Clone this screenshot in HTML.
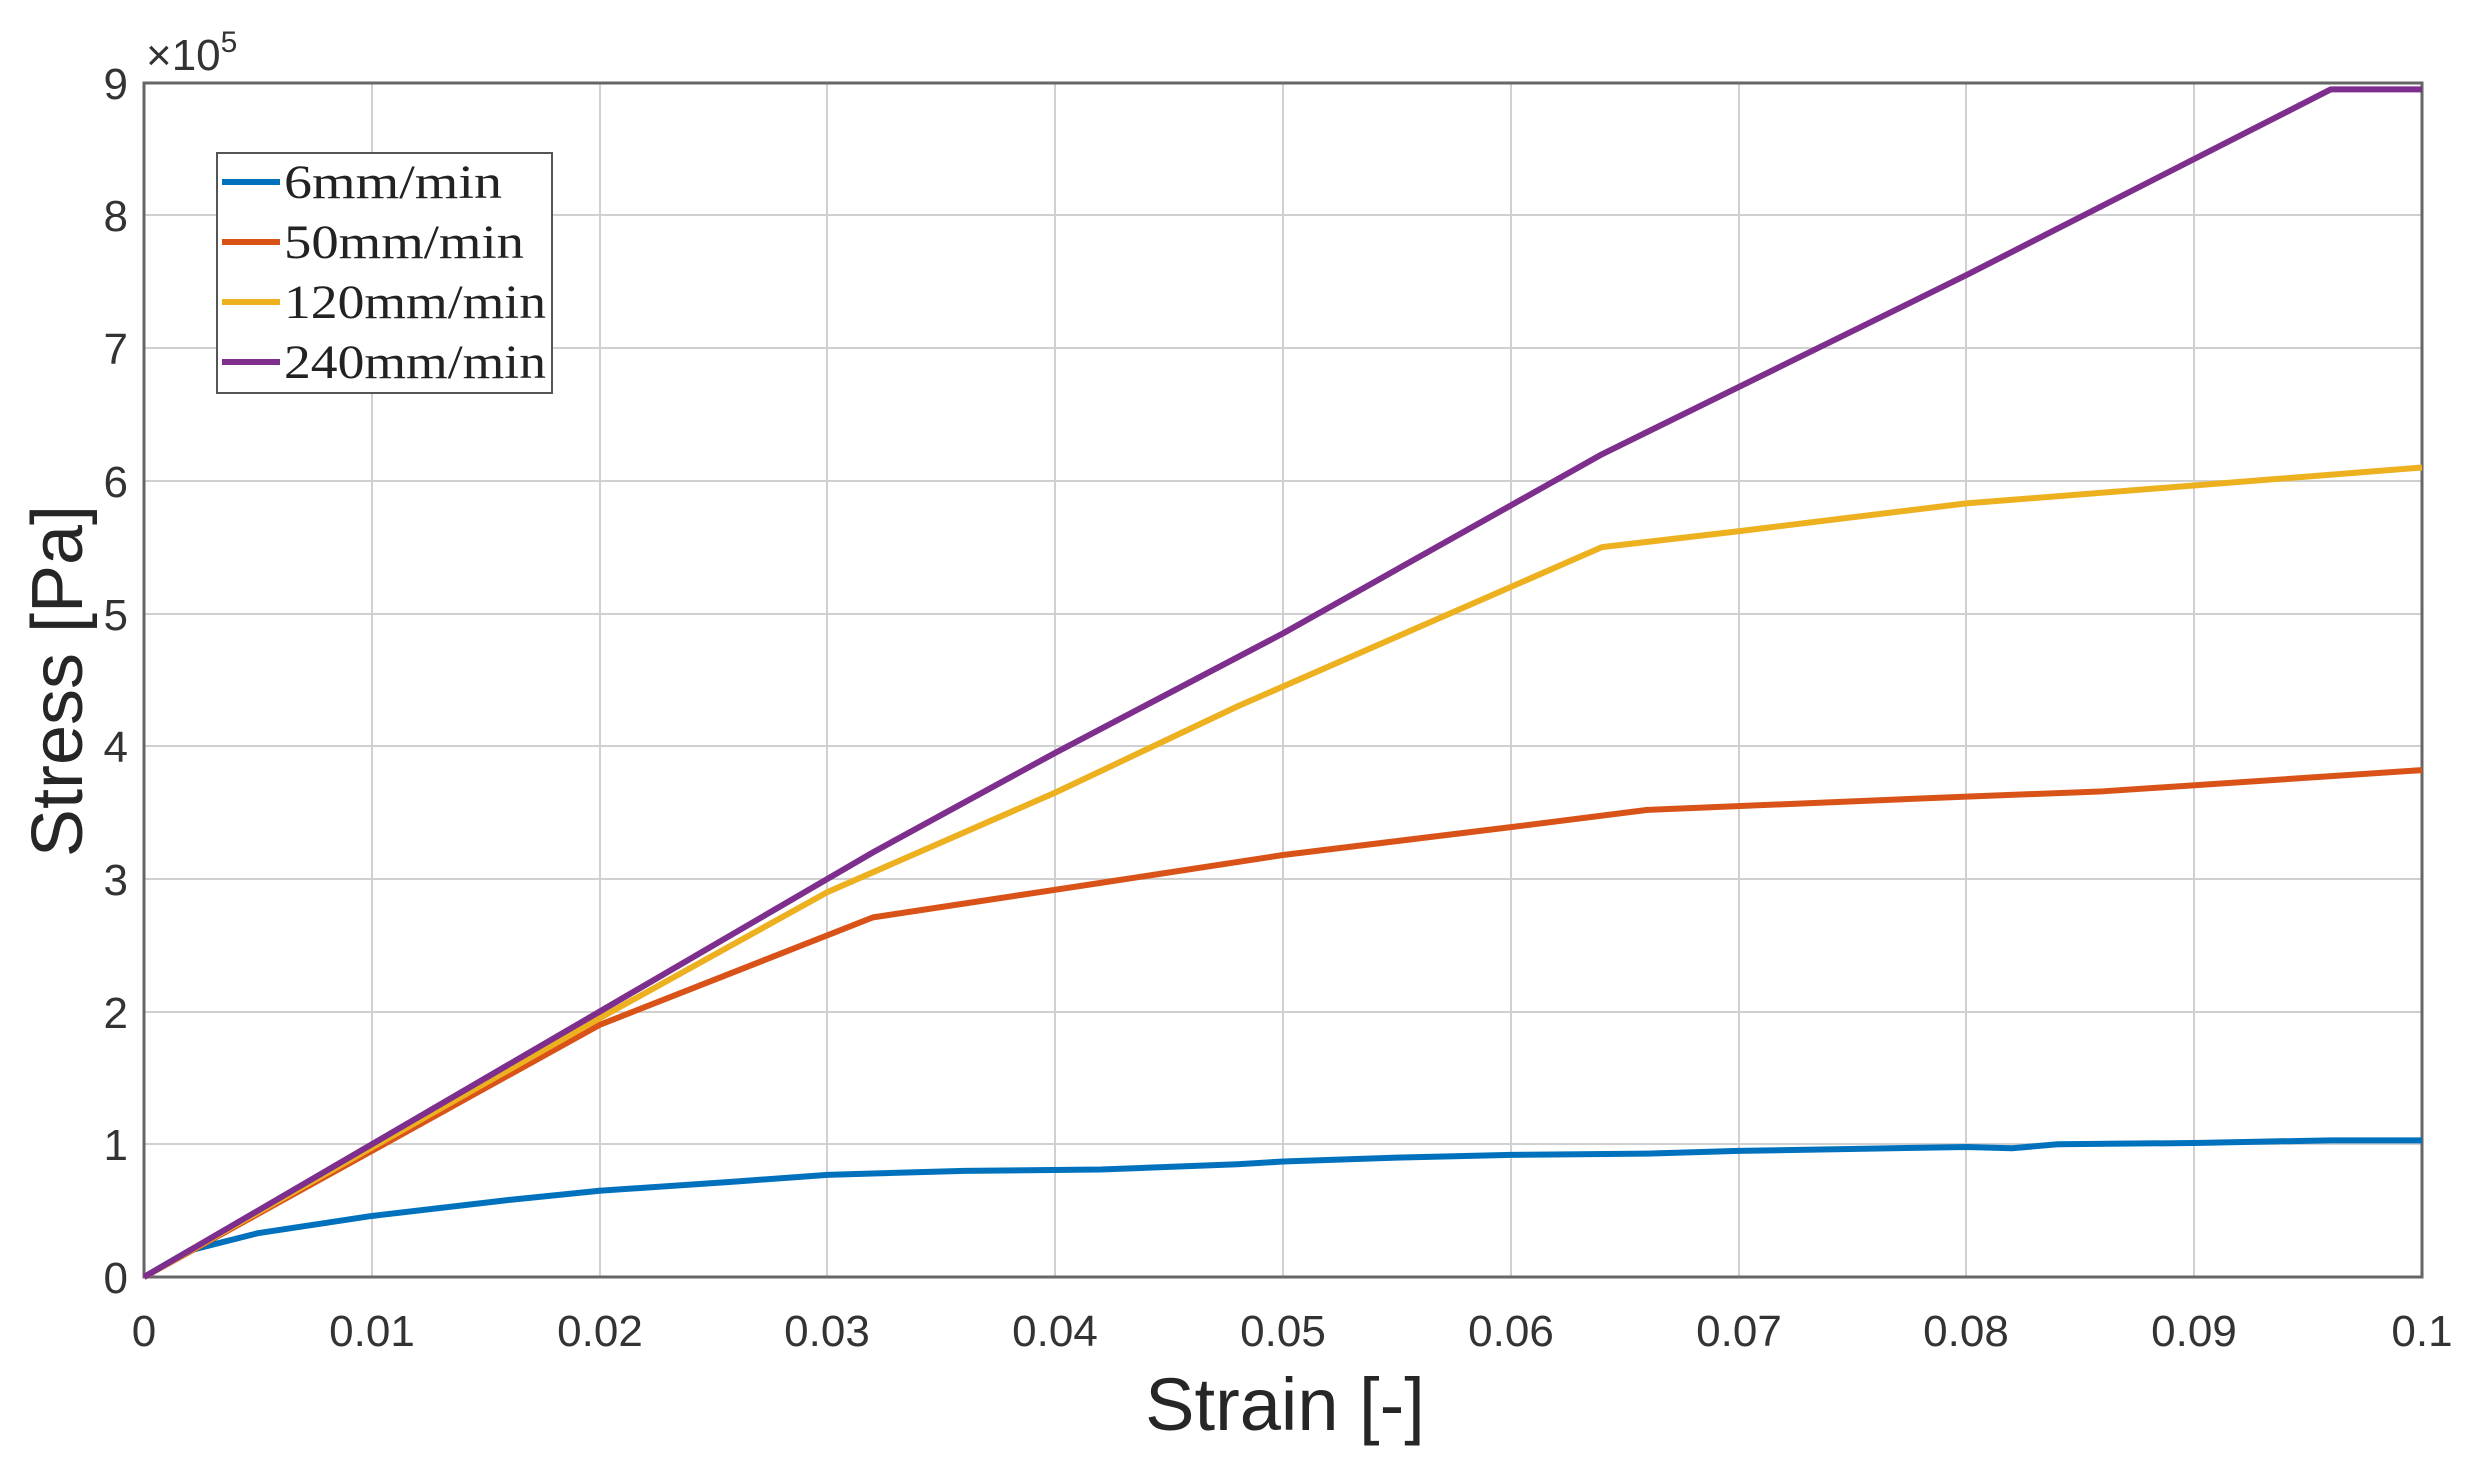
<!DOCTYPE html>
<html><head><style>body{margin:0;background:#fff}svg{display:block}</style></head><body>
<svg width="2466" height="1465" xmlns="http://www.w3.org/2000/svg" font-family="Liberation Sans, sans-serif">
<rect width="2466" height="1465" fill="#fff"/>
<g stroke="#d0d0d0" stroke-width="2">
<line x1="372" y1="83" x2="372" y2="1277"/><line x1="600" y1="83" x2="600" y2="1277"/><line x1="827" y1="83" x2="827" y2="1277"/><line x1="1055" y1="83" x2="1055" y2="1277"/><line x1="1283" y1="83" x2="1283" y2="1277"/><line x1="1511" y1="83" x2="1511" y2="1277"/><line x1="1739" y1="83" x2="1739" y2="1277"/><line x1="1966" y1="83" x2="1966" y2="1277"/><line x1="2194" y1="83" x2="2194" y2="1277"/>
<line x1="144" y1="1144" x2="2422" y2="1144"/><line x1="144" y1="1012" x2="2422" y2="1012"/><line x1="144" y1="879" x2="2422" y2="879"/><line x1="144" y1="746" x2="2422" y2="746"/><line x1="144" y1="614" x2="2422" y2="614"/><line x1="144" y1="481" x2="2422" y2="481"/><line x1="144" y1="348" x2="2422" y2="348"/><line x1="144" y1="215" x2="2422" y2="215"/>
</g>
<rect x="144" y="83" width="2278" height="1194" fill="none" stroke="#666" stroke-width="3"/>
<g transform="translate(144,1277) scale(22780,-132.7)" fill="none" stroke-linejoin="round">
<polyline vector-effect="non-scaling-stroke" stroke-width="6" stroke="#0072bd" points="0,0 0.002,0.2 0.005,0.33 0.01,0.46 0.016,0.58 0.02,0.65 0.026,0.72 0.03,0.77 0.036,0.8 0.042,0.81 0.048,0.85 0.05,0.87 0.055,0.9 0.06,0.92 0.066,0.93 0.07,0.95 0.08,0.98 0.082,0.97 0.084,1.0 0.09,1.01 0.096,1.03 0.1,1.03"/>
<polyline vector-effect="non-scaling-stroke" stroke-width="6" stroke="#d95319" points="0,0 0.01,0.95 0.02,1.9 0.032,2.71 0.042,2.97 0.05,3.18 0.06,3.39 0.066,3.52 0.08,3.62 0.086,3.66 0.1,3.82"/>
<polyline vector-effect="non-scaling-stroke" stroke-width="6" stroke="#edb120" points="0,0 0.02,1.95 0.03,2.9 0.04,3.65 0.048,4.3 0.064,5.5 0.07,5.62 0.08,5.83 0.1,6.1"/>
<polyline vector-effect="non-scaling-stroke" stroke-width="6" stroke="#7e2f8e" points="0,0 0.01,1.0 0.02,2.0 0.032,3.2 0.04,3.95 0.05,4.85 0.064,6.2 0.08,7.55 0.096,8.95 0.1,8.95"/>
</g>
<g font-size="44" fill="#333" text-anchor="middle">
<text x="144" y="1346">0</text><text x="372" y="1346">0.01</text><text x="600" y="1346">0.02</text><text x="827" y="1346">0.03</text><text x="1055" y="1346">0.04</text><text x="1283" y="1346">0.05</text><text x="1511" y="1346">0.06</text><text x="1739" y="1346">0.07</text><text x="1966" y="1346">0.08</text><text x="2194" y="1346">0.09</text><text x="2422" y="1346">0.1</text>
</g>
<g font-size="44" fill="#333" text-anchor="end">
<text x="128" y="1293">0</text><text x="128" y="1160">1</text><text x="128" y="1028">2</text><text x="128" y="895">3</text><text x="128" y="762">4</text><text x="128" y="630">5</text><text x="128" y="497">6</text><text x="128" y="364">7</text><text x="128" y="231">8</text><text x="128" y="99">9</text>
</g>
<text x="146" y="70" font-size="44" fill="#333">×10<tspan font-size="30" dy="-18">5</tspan></text>
<text x="1285" y="1430" font-size="74" fill="#262626" text-anchor="middle">Strain [-]</text>
<text transform="translate(82,681) rotate(-90)" font-size="72" fill="#262626" text-anchor="middle">Stress [Pa]</text>
<rect x="217" y="153" width="335" height="240" fill="#fff" stroke="#555" stroke-width="2"/>
<g stroke-width="6">
<line x1="222" y1="182" x2="280" y2="182" stroke="#0072bd"/>
<line x1="222" y1="242" x2="280" y2="242" stroke="#d95319"/>
<line x1="222" y1="302" x2="280" y2="302" stroke="#edb120"/>
<line x1="222" y1="362" x2="280" y2="362" stroke="#7e2f8e"/>
</g>
<g font-family="Liberation Serif, serif" font-size="48" fill="#222">
<text x="284" y="198" textLength="218" lengthAdjust="spacingAndGlyphs">6mm/min</text><text x="284" y="258" textLength="240" lengthAdjust="spacingAndGlyphs">50mm/min</text><text x="284" y="318" textLength="262" lengthAdjust="spacingAndGlyphs">120mm/min</text><text x="284" y="378" textLength="262" lengthAdjust="spacingAndGlyphs">240mm/min</text>
</g>
</svg>
</body></html>
